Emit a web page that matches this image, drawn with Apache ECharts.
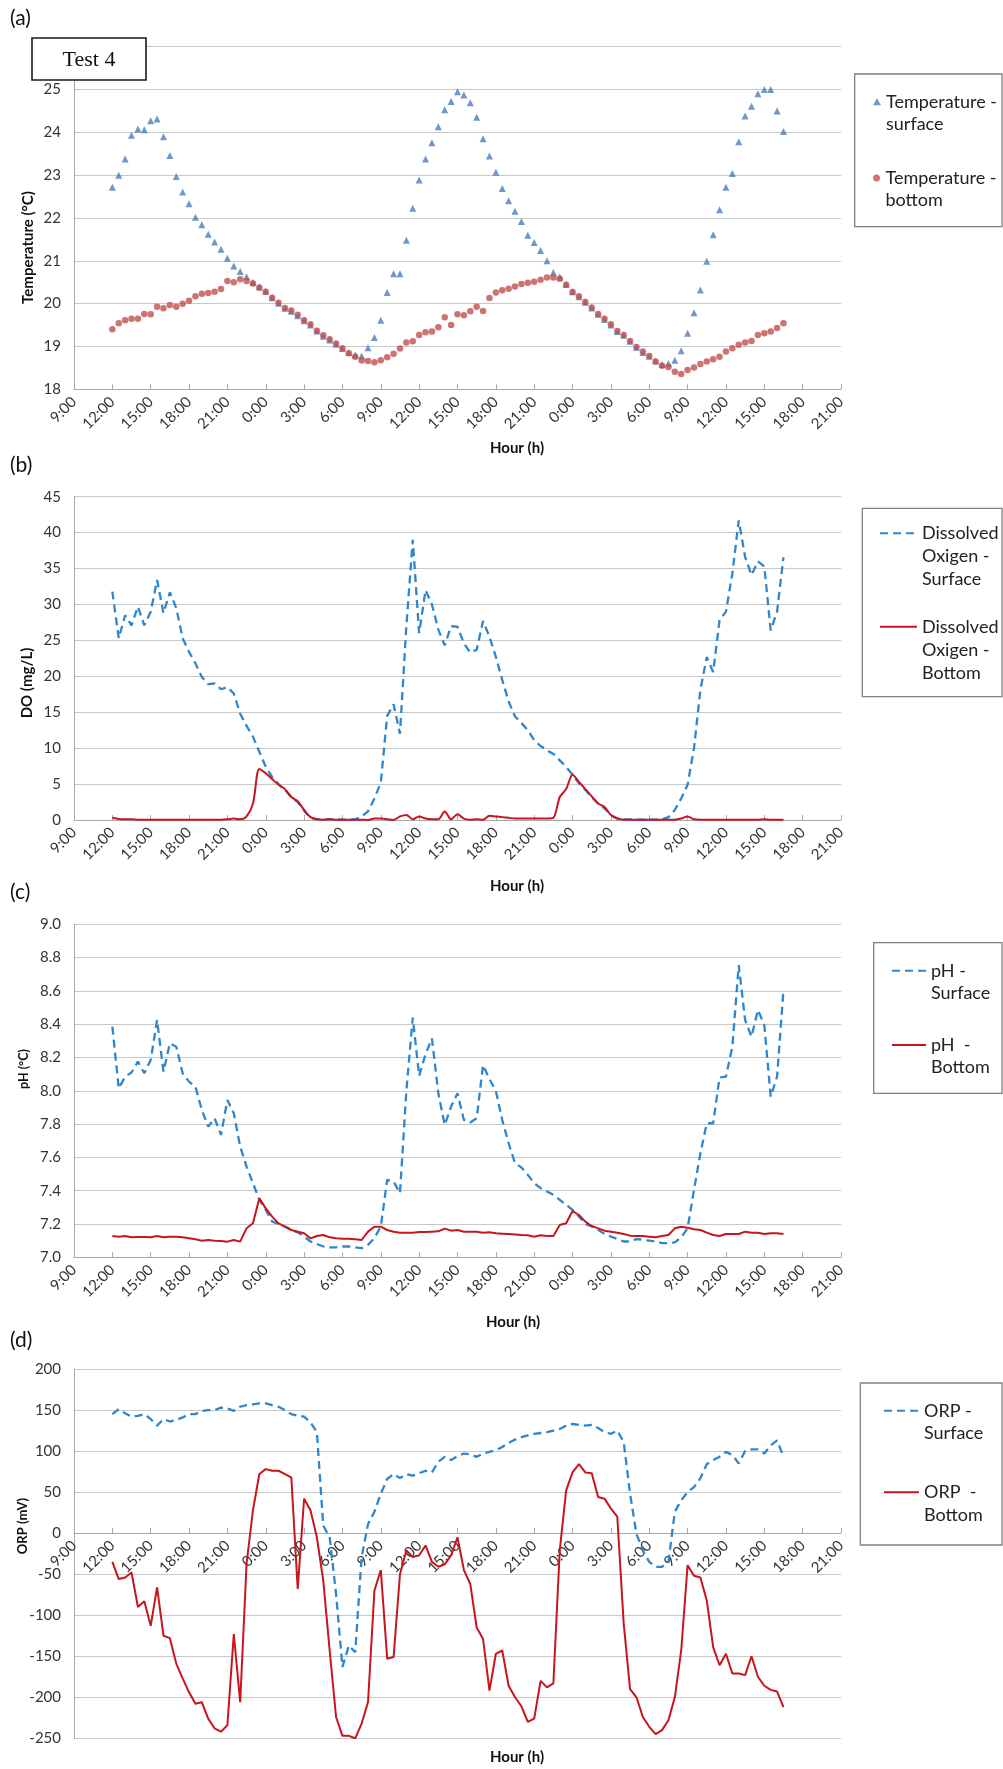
<!DOCTYPE html>
<html>
<head>
<meta charset="utf-8">
<script src="https://cdn.jsdelivr.net/npm/echarts@6/dist/echarts.min.js"></script>
<style>
html,body{margin:0;padding:0;background:#fff;}
#chart{width:1003px;height:1769px;}
</style>
</head>
<body>
<div id="chart"></div>
<script>
// ---------- tick labels (x axis: every 3 h starting 9:00 of day 1) ----------
const tickLabels = ['9:00','12:00','15:00','18:00','21:00','0:00','3:00','6:00',
  '9:00','12:00','15:00','18:00','21:00','0:00','3:00','6:00',
  '9:00','12:00','15:00','18:00','21:00'];
// samples every 30 min, first sample 12:00 day 1 (= 3 h after axis start)
const startHour = 3;
const stepHours = 0.5;

// ---------- (a) temperature ----------
const tempSurface = [22.72,23.00,23.38,23.93,24.08,24.06,24.27,24.31,23.90,23.46,
  22.97,22.61,22.33,22.02,21.84,21.62,21.44,21.27,21.06,20.88,
  20.75,20.63,20.50,20.39,20.29,20.14,20.01,19.89,19.82,19.72,
  19.60,19.50,19.36,19.24,19.15,19.05,18.95,18.86,18.80,18.78,
  18.97,19.21,19.61,20.26,20.70,20.70,21.48,22.23,22.89,23.38,
  23.76,24.13,24.53,24.72,24.95,24.87,24.69,24.35,23.85,23.45,
  23.07,22.69,22.40,22.16,21.92,21.60,21.43,21.24,21.00,20.73,
  20.62,20.45,20.28,20.16,20.03,19.90,19.75,19.63,19.50,19.35,
  19.26,19.12,18.98,18.86,18.77,18.66,18.58,18.60,18.68,18.90,
  19.31,19.79,20.32,20.99,21.61,22.19,22.72,23.04,23.78,24.38,
  24.61,24.90,25.00,25.00,24.50,24.02];
const tempBottom = [19.40,19.54,19.61,19.65,19.65,19.76,19.75,19.93,19.89,19.97,
  19.93,20.00,20.07,20.17,20.23,20.25,20.28,20.34,20.53,20.50,
  20.57,20.53,20.47,20.38,20.28,20.14,20.02,19.90,19.84,19.74,
  19.61,19.52,19.37,19.26,19.17,19.07,18.96,18.84,18.76,18.67,
  18.66,18.63,18.68,18.75,18.83,18.95,19.09,19.12,19.27,19.33,
  19.35,19.45,19.68,19.50,19.75,19.73,19.82,19.93,19.83,20.13,
  20.26,20.31,20.35,20.40,20.46,20.49,20.51,20.56,20.61,20.61,
  20.58,20.44,20.27,20.17,20.04,19.91,19.76,19.65,19.52,19.36,
  19.27,19.13,18.99,18.88,18.78,18.65,18.55,18.52,18.41,18.36,
  18.45,18.51,18.59,18.65,18.70,18.76,18.88,18.96,19.04,19.09,
  19.13,19.27,19.31,19.35,19.43,19.54];

// ---------- (b) dissolved oxygen ----------
const doSurface = [31.8,25.3,28.5,27.1,29.7,27.1,29.0,33.4,28.8,31.7,
  29.5,25.3,23.4,21.8,19.9,18.9,19.0,18.2,18.5,17.6,
  14.8,13.1,11.6,9.5,7.4,6.0,5.0,4.2,3.2,2.5,
  1.3,0.3,0.1,0.1,0.1,0.1,0.05,0.05,0.1,0.5,
  1.2,3.0,5.2,14.5,16.1,12.0,27.0,39.0,26.0,32.0,
  30.0,26.5,24.3,27.0,26.9,24.6,23.3,23.7,27.7,25.5,
  22.7,19.5,16.5,14.4,13.5,12.5,11.1,10.3,9.7,9.2,
  8.3,7.4,6.3,5.1,4.2,3.2,2.3,1.6,0.7,0.2,
  0.1,0.1,0.05,0.05,0.05,0.05,0.1,0.4,1.4,3.0,
  4.9,10.0,18.1,22.7,20.6,27.8,29.0,34.3,41.7,36.6,
  34.1,36.0,35.3,26.4,29.0,36.6];
const doBottom = [0.3,0.15,0.1,0.1,0.05,0.05,0.05,0.05,0.05,0.05,
  0.05,0.05,0.05,0.05,0.05,0.05,0.05,0.05,0.1,0.2,
  0.1,0.5,2.3,7.1,6.5,5.7,4.9,4.3,3.2,2.6,
  1.4,0.4,0.1,0.05,0.1,0.05,0.05,0.05,0.05,0.05,
  0.0,0.2,0.2,0.1,0.0,0.5,0.7,0.1,0.5,0.2,
  0.1,0.1,1.2,0.1,0.8,0.2,0.05,0.1,0.05,0.6,
  0.5,0.4,0.3,0.2,0.2,0.2,0.2,0.2,0.2,0.3,
  3.2,4.3,6.3,5.3,4.3,3.3,2.3,1.8,0.7,0.2,
  0.05,0.05,0.05,0.05,0.05,0.05,0.05,0.05,0.05,0.2,
  0.5,0.1,0.05,0.05,0.05,0.05,0.05,0.05,0.05,0.05,
  0.05,0.05,0.1,0.05,0.05,0.05];

// ---------- (c) pH ----------
const phSurface = [8.385,8.015,8.085,8.11,8.175,8.105,8.185,8.425,8.115,8.285,
  8.265,8.105,8.055,8.025,7.885,7.785,7.835,7.735,7.945,7.865,
  7.665,7.545,7.445,7.345,7.285,7.215,7.20,7.185,7.165,7.15,
  7.125,7.095,7.08,7.065,7.06,7.06,7.065,7.065,7.06,7.055,
  7.075,7.115,7.185,7.465,7.455,7.385,8.0,8.44,8.09,8.22,
  8.315,7.985,7.795,7.905,7.985,7.825,7.81,7.835,8.155,8.07,
  8.0,7.825,7.685,7.565,7.54,7.495,7.445,7.415,7.395,7.375,
  7.345,7.315,7.285,7.245,7.20,7.185,7.165,7.14,7.125,7.11,
  7.095,7.095,7.11,7.105,7.10,7.095,7.085,7.085,7.09,7.12,
  7.175,7.405,7.625,7.805,7.805,8.08,8.085,8.265,8.755,8.425,
  8.325,8.485,8.395,7.965,8.085,8.605];
const phBottom = [7.128,7.124,7.128,7.12,7.122,7.122,7.12,7.128,7.12,7.124,
  7.124,7.12,7.114,7.108,7.10,7.104,7.10,7.098,7.094,7.104,
  7.094,7.174,7.204,7.354,7.294,7.244,7.204,7.184,7.164,7.154,
  7.144,7.114,7.128,7.134,7.12,7.114,7.112,7.112,7.108,7.104,
  7.154,7.184,7.184,7.164,7.154,7.148,7.148,7.148,7.152,7.152,
  7.154,7.156,7.172,7.16,7.164,7.154,7.154,7.154,7.148,7.15,
  7.144,7.142,7.14,7.137,7.134,7.132,7.124,7.132,7.128,7.128,
  7.194,7.204,7.278,7.254,7.214,7.188,7.174,7.16,7.154,7.148,
  7.14,7.13,7.128,7.128,7.124,7.12,7.128,7.134,7.174,7.184,
  7.178,7.168,7.164,7.148,7.134,7.128,7.14,7.14,7.14,7.154,
  7.148,7.148,7.14,7.144,7.144,7.14];

// ---------- (d) ORP ----------
const orpSurface = [145,151,146,142,143,145,139,131,139,136,
  138,141,145,145,149,150,150,153,152,149,
  154,156,157,158,158,156,154,150,145,143,
  142,135,123,9,-5,-74,-163,-137,-145,-29,
  11,26,48,66,72,67,72,70,73,76,
  74,87,93,89,94,97,96,93,97,99,
  101,105,110,114,117,119,121,122,123,125,
  127,131,133,132,131,132,128,123,121,125,
  111,48,-1,-21,-35,-41,-41,-35,26,40,
  50,56,67,84,89,93,99,95,85,100,
  102,102,97,107,113,93];
const orpBottom = [-35,-56,-54,-48,-90,-83,-113,-66,-125,-128,
  -159,-177,-194,-208,-206,-226,-238,-242,-234,-123,
  -206,-37,28,72,78,76,76,72,68,-68,
  42,28,-5,-58,-143,-224,-247,-247,-250,-232,
  -206,-70,-45,-153,-151,-50,-21,-29,-27,-15,
  -35,-41,-38,-27,-5,-45,-62,-115,-129,-192,
  -147,-143,-186,-200,-211,-230,-226,-180,-188,-183,
  -21,52,74,84,74,73,44,42,30,20,
  -110,-190,-200,-224,-236,-245,-240,-228,-200,-143,
  -39,-52,-54,-82,-139,-161,-147,-171,-171,-173,
  -150,-175,-186,-191,-193,-212];

// ---------- build chart ----------
function pairs(vals){ return vals.map((v,i)=>[startHour + stepHours*i, v]); }

const FONT = 'Lato, "Open Sans", sans-serif';
const BLUE_LINE = '#2e86cc';
const RED_LINE = '#c8151d';
const AXIS_GRAY = '#a9a9a9';
const GRID_GRAY = '#c9c9c9';
const TXT = '#333333';

const gridBoxes = [
  {left:74, top:46.7, width:767, height:342.6},
  {left:74, top:496.7, width:767, height:323.3},
  {left:74, top:924.3, width:767, height:333},
  {left:74, top:1369, width:767, height:369.3}
];
const yRanges = [
  {min:18, max:26, interval:1, dec:0},
  {min:0, max:45, interval:5, dec:0},
  {min:7, max:9, interval:0.2, dec:1},
  {min:-250, max:200, interval:50, dec:0}
];

// the x axis of each panel crosses its y axis at this value
const xCrossAt = [18, 0, 7, 0];

const xAxes = gridBoxes.map((g,k)=>{
  const r = yRanges[k];
  const off = -(xCrossAt[k] - r.min) / (r.max - r.min) * g.height;
  return {
    type:'value', gridIndex:k, min:0, max:60, interval:3, offset: off,
    axisLine:{show:true, onZero:false, lineStyle:{color:AXIS_GRAY, width:1}},
    axisTick:{show:true, inside:true, length:5, lineStyle:{color:AXIS_GRAY}},
    splitLine:{show:false},
    axisLabel:{rotate:45, margin:10, fontSize:15, fontFamily:FONT, color:TXT,
      formatter:(v)=>tickLabels[Math.round(v/3)] || ''}
  };
});
const yAxes = yRanges.map((r,k)=>({
  type:'value', gridIndex:k, min:r.min, max:r.max, interval:r.interval,
  axisLine:{show:true, onZero:false, lineStyle:{color:AXIS_GRAY, width:1}},
  axisTick:{show:false},
  splitLine:{show:true, lineStyle:{color:GRID_GRAY, width:1}},
  axisLabel:{margin:13, fontSize:15, fontFamily:FONT, color:TXT,
    formatter:(v)=>Number(v).toFixed(r.dec)}
}));

function lineSeries(name, vals, k, color, dashed, smooth){
  return {
    name, type:'line', xAxisIndex:k, yAxisIndex:k, data:pairs(vals),
    symbol:'none', showSymbol:false, animation:false, smooth: smooth || false,
    itemStyle:{color},
    lineStyle:{color, width: dashed ? 2.3 : 2, type: dashed ? [8,5] : 'solid'},
    z: dashed ? 2 : 3
  };
}

const series = [
  {name:'Temperature -\nsurface', type:'scatter', xAxisIndex:0, yAxisIndex:0,
   data:pairs(tempSurface), symbol:'triangle', symbolSize:7,
   itemStyle:{color:'#4a7ebb'}, animation:false, z:2},
  {name:'Temperature -\nbottom', type:'scatter', xAxisIndex:0, yAxisIndex:0,
   data:pairs(tempBottom), symbol:'circle', symbolSize:6.5,
   itemStyle:{color:'#c0504d'}, animation:false, z:3},
  lineSeries('Dissolved\nOxigen -\nSurface', doSurface, 1, BLUE_LINE, true),
  lineSeries('Dissolved\nOxigen -\nBottom', doBottom, 1, RED_LINE, false, 0.3),
  lineSeries('pH -\nSurface', phSurface, 2, BLUE_LINE, true),
  lineSeries('pH  -\nBottom', phBottom, 2, RED_LINE, false),
  lineSeries('ORP -\nSurface', orpSurface, 3, BLUE_LINE, true),
  lineSeries('ORP  -\nBottom', orpBottom, 3, RED_LINE, false)
];

// one legend component per entry; leading blank lines keep the icon level
// with the first text line (text block is centred on the icon)
function legendItem(name, left, iconCenterY, itemWidth, itemHeight, nLines, lh, isLine){
  const H = (2*nLines - 1) * lh;
  const lg = {
    data:[name], orient:'vertical', left:left, top: iconCenterY - H/2,
    itemWidth, itemHeight, itemGap:0, padding:0, selectedMode:false,
    formatter: (n)=>'\n'.repeat(nLines-1) + n,
    textStyle:{fontSize:18, fontFamily:FONT, color:'#222', lineHeight:lh}
  };
  if (isLine) { lg.itemStyle = {opacity:0, color:'rgba(0,0,0,0)', borderWidth:0}; }
  return lg;
}
const legends = [
  legendItem('Temperature -\nsurface', 873, 101.7, 8, 7, 2, 22.4, false),
  legendItem('Temperature -\nbottom', 873, 178, 8, 7, 2, 22.4, false),
  legendItem('Dissolved\nOxigen -\nSurface', 879, 533.3, 37, 10, 3, 23, true),
  legendItem('Dissolved\nOxigen -\nBottom', 879, 626.7, 37, 10, 3, 23, true),
  legendItem('pH -\nSurface', 891, 970.7, 34, 10, 2, 22.6, true),
  legendItem('pH  -\nBottom', 891, 1045, 34, 10, 2, 22.6, true),
  legendItem('ORP -\nSurface', 883, 1410.7, 35, 10, 2, 22.4, true),
  legendItem('ORP  -\nBottom', 883, 1492.3, 35, 10, 2, 22.4, true)
];

function box(x, y, w, h, stroke, lw, fill, z){
  return {type:'rect', shape:{x, y, width:w, height:h}, z: z||10,
    style:{fill: fill || 'none', stroke, lineWidth: lw}};
}
function txt(text, x, y, size, opts){
  opts = opts || {};
  return {type:'text', x, y, rotation: opts.rot || 0, z: opts.z || 10,
    style:{text, fontSize:size, fontFamily: opts.family || FONT,
      fontWeight: opts.weight || 'normal', fill: opts.color || '#222',
      align: opts.align || 'center', verticalAlign:'middle'}};
}
const graphics = [
  // legend frames
  box(854.7, 74, 147.3, 152.7, '#808080', 1.3),
  box(862.3, 508.3, 139.7, 188.4, '#808080', 1.3),
  box(873.7, 942.7, 128.3, 150.6, '#808080', 1.3),
  box(860.3, 1383, 141.7, 162, '#808080', 1.3),
  // Test 4 box
  box(32, 38, 114, 42, '#1a1a1a', 1.6, '#ffffff', 100),
  txt('Test 4', 89, 60, 22, {family:'"Liberation Serif", "DejaVu Serif", serif', color:'#111', z:101}),
  // panel letters
  txt('(a)', 10, 18, 21, {align:'left', color:'#111'}),
  txt('(b)', 10, 465, 21, {align:'left', color:'#111'}),
  txt('(c)', 10, 892, 21, {align:'left', color:'#111'}),
  txt('(d)', 10, 1340, 21, {align:'left', color:'#111'}),
  // y axis titles
  txt('Temperature (°C)', 28, 247.5, 15, {rot:Math.PI/2, weight:'bold', color:'#111'}),
  txt('DO (mg/L)', 27, 683, 15, {rot:Math.PI/2, weight:'bold', color:'#111'}),
  txt('pH (°C)', 24, 1069, 12.5, {rot:Math.PI/2, weight:'bold', color:'#111'}),
  txt('ORP (mV)', 23, 1526, 13, {rot:Math.PI/2, weight:'bold', color:'#111'}),
  // x axis titles
  txt('Hour (h)', 517, 448, 15, {weight:'bold', color:'#111'}),
  txt('Hour (h)', 517, 886, 15, {weight:'bold', color:'#111'}),
  txt('Hour (h)', 513, 1322, 15, {weight:'bold', color:'#111'}),
  txt('Hour (h)', 517, 1757, 15, {weight:'bold', color:'#111'})
];

const chart = echarts.init(document.getElementById('chart'), null, {renderer:'canvas'});
chart.setOption({
  backgroundColor:'#ffffff',
  animation:false,
  grid: gridBoxes.map(g=>Object.assign({containLabel:false}, g)),
  xAxis: xAxes,
  yAxis: yAxes,
  legend: legends,
  series: series,
  graphic: graphics
});
</script>
</body>
</html>
